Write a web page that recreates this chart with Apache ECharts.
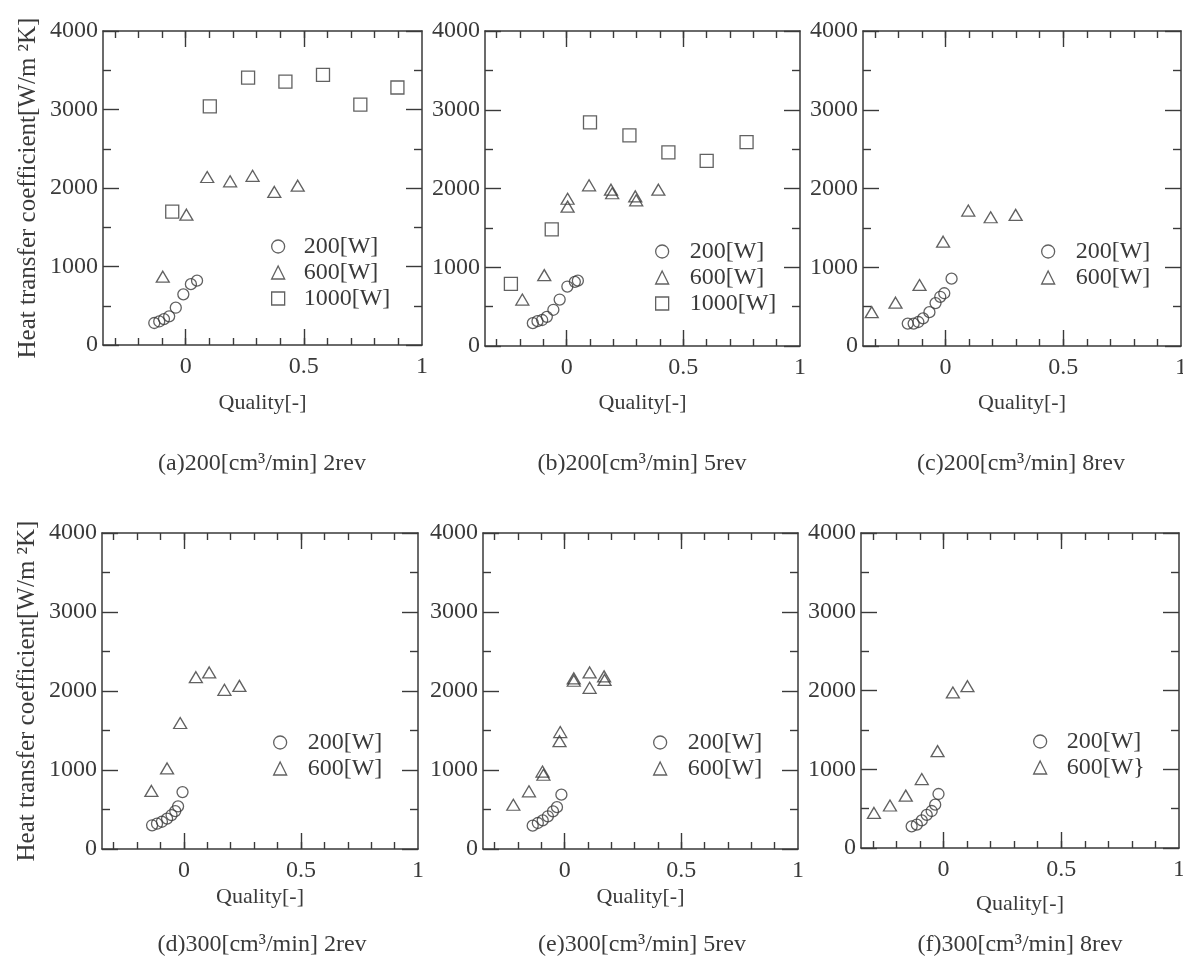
<!DOCTYPE html>
<html><head><meta charset="utf-8">
<script src="https://cdn.jsdelivr.net/npm/echarts@6/dist/echarts.min.js"></script>
<style>html,body{margin:0;padding:0;background:#fff}#c{width:1183px;height:971px}</style>
</head><body><div id="c"></div>
<script>
// ---- data (quality [-], heat transfer coefficient [W/m2K]) ----
const a200 = [[-0.133,280],[-0.112,300],[-0.092,330],[-0.07,365],[-0.042,475],[-0.01,645],[0.022,775],[0.048,820]];
const a600 = [[-0.097,870],[0.003,1660],[0.091,2140],[0.188,2085],[0.283,2155],[0.375,1950],[0.474,2030]];
const a1000 = [[-0.057,1700],[0.102,3040],[0.264,3405],[0.422,3355],[0.581,3440],[0.739,3063],[0.896,3280]];

const b200 = [[-0.145,290],[-0.125,315],[-0.105,330],[-0.085,370],[-0.057,460],[-0.03,590],[0.003,755],[0.035,815],[0.048,830]];
const b600 = [[-0.19,590],[-0.096,900],[0.004,1870],[0.004,1770],[0.096,2040],[0.19,1985],[0.195,1940],[0.294,1900],[0.298,1850],[0.393,1985]];
const b1000 = [[-0.239,790],[-0.064,1480],[0.1,2840],[0.269,2675],[0.436,2460],[0.6,2350],[0.771,2590]];

const c200 = [[-0.16,285],[-0.135,285],[-0.115,305],[-0.095,350],[-0.068,430],[-0.042,545],[-0.022,625],[-0.005,670],[0.026,855]];
const c600 = [[-0.313,430],[-0.212,550],[-0.11,775],[-0.01,1325],[0.097,1720],[0.192,1635],[0.298,1665]];

const d200 = [[-0.136,300],[-0.115,320],[-0.094,345],[-0.072,385],[-0.053,430],[-0.037,480],[-0.025,540],[-0.006,720]];
const d600 = [[-0.139,735],[-0.072,1020],[-0.016,1595],[0.051,2175],[0.108,2235],[0.173,2015],[0.237,2065]];

const e200 = [[-0.137,295],[-0.115,329],[-0.094,363],[-0.072,414],[-0.05,477],[-0.033,530],[-0.014,688]];
const e600 = [[-0.22,560],[-0.153,730],[-0.095,980],[-0.091,940],[-0.019,1480],[-0.022,1365],[0.039,2160],[0.039,2130],[0.107,2235],[0.107,2040],[0.169,2185],[0.171,2140]];

const f200 = [[-0.135,275],[-0.113,296],[-0.092,350],[-0.071,420],[-0.05,470],[-0.035,550],[-0.021,686]];
const f600 = [[-0.295,445],[-0.227,540],[-0.16,665],[-0.092,875],[-0.025,1230],[0.04,1975],[0.102,2055]];

// ---- ticks & labels ----
const xLabels = [0, 0.5, 1];
const xMinorTicks = [-0.3,-0.2,-0.1,0,0.1,0.2,0.3,0.4,0.5,0.6,0.7,0.8,0.9];
const xMajorTicks = [0, 0.5];
const xName = 'Quality[-]';
const yName = 'Heat transfer coefficient[W/m \u00B2K]';
const captions = ['(a)200[cm\u00B3/min] 2rev','(b)200[cm\u00B3/min] 5rev','(c)200[cm\u00B3/min] 8rev',
                  '(d)300[cm\u00B3/min] 2rev','(e)300[cm\u00B3/min] 5rev','(f)300[cm\u00B3/min] 8rev'];

// ---- layout ----
const panels = [
  {grid:{left:103,top:31,width:319,height:314}, series:[['200[W]',a200,'circle'],['600[W]',a600,'triangle'],['1000[W]',a1000,'rect']], lg:{left:271,top:234,pad:14}, cx:262, cy:464, nameGap:47, yTitle:true},
  {grid:{left:485,top:31,width:315,height:315}, series:[['200[W]',b200,'circle'],['600[W]',b600,'triangle'],['1000[W]',b1000,'rect']], lg:{left:655,top:239,pad:16}, cx:642, cy:464, nameGap:46},
  {grid:{left:863,top:31,width:318,height:315}, series:[['200[W]',c200,'circle'],['600[W]',c600,'triangle']], lg:{left:1041,top:239,pad:16}, cx:1021, cy:464, nameGap:46},
  {grid:{left:102,top:533,width:316,height:316}, series:[['200[W]',d200,'circle'],['600[W]',d600,'triangle']], lg:{left:273,top:730,pad:16}, cx:262, cy:945, nameGap:37, yTitle:true},
  {grid:{left:483,top:533,width:315,height:316}, series:[['200[W]',e200,'circle'],['600[W]',e600,'triangle']], lg:{left:653,top:730,pad:16}, cx:642, cy:945, nameGap:37},
  {grid:{left:861,top:533,width:318,height:315}, series:[['200[W]',f200,'circle'],['600[W}',f600,'triangle']], lg:{left:1033,top:729,pad:15}, cx:1020, cy:945, nameGap:45}
];

const FONT = 'Liberation Serif';
const INK = '#3a3a3a';
const lineStyle = {color: INK, width: 1.4};
const symSize = {circle: 11, triangle: [13, 11], rect: 13};

const option = {animation:false, backgroundColor:'#fff', grid:[], xAxis:[], yAxis:[], series:[], legend:[], graphic:[]};

panels.forEach((p, i) => {
  option.grid.push(Object.assign({show:false, containLabel:false, outerBoundsMode:'none'}, p.grid));
  const xi = option.xAxis.length;
  const baseX = () => ({gridIndex:i, type:'value', min:-0.35, max:1,
    axisLine:{show:true, onZero:false, lineStyle:{color:INK, width:1.5}},
    splitLine:{show:false},
    axisTick:{show:true, inside:true, length:7, customValues:xMinorTicks, lineStyle},
    axisLabel:{show:false}});
  const bottom = baseX();
  bottom.position = 'bottom';
  bottom.axisLabel = {show:true, customValues:xLabels, fontFamily:FONT, fontSize:24, color:INK, margin:10};
  bottom.name = xName; bottom.nameLocation = 'middle'; bottom.nameGap = p.nameGap;
  bottom.nameTextStyle = {fontFamily:FONT, fontSize:22, color:INK};
  option.xAxis.push(bottom);
  const bottomMajor = baseX();
  bottomMajor.position = 'bottom';
  bottomMajor.axisLine = {show:false, onZero:false};
  bottomMajor.axisTick = {show:true, inside:true, length:16, customValues:xMajorTicks, lineStyle};
  option.xAxis.push(bottomMajor);
  const top = baseX(); top.position = 'top';
  option.xAxis.push(top);
  const topMajor = baseX();
  topMajor.position = 'top';
  topMajor.axisLine = {show:false, onZero:false};
  topMajor.axisTick = {show:true, inside:true, length:16, customValues:xMajorTicks, lineStyle};
  option.xAxis.push(topMajor);

  const yi = option.yAxis.length;
  const baseY = () => ({gridIndex:i, type:'value', min:0, max:4000, interval:1000,
    axisLine:{show:true, onZero:false, lineStyle:{color:INK, width:1.5}},
    splitLine:{show:false},
    axisTick:{show:true, inside:true, length:16, lineStyle},
    minorTick:{show:true, splitNumber:2, length:8, lineStyle},
    axisLabel:{show:false}});
  const left = baseY();
  left.position = 'left';
  left.axisLabel = {show:true, fontFamily:FONT, fontSize:24, color:INK, margin:5, formatter: v => String(v)};
  if (p.yTitle) {
    left.name = yName; left.nameLocation = 'middle'; left.nameGap = 62; left.nameRotate = 90;
    left.nameTextStyle = {fontFamily:FONT, fontSize:25, color:INK};
  }
  option.yAxis.push(left);
  const right = baseY(); right.position = 'right';
  option.yAxis.push(right);

  p.series.forEach(([name, data, sym]) => {
    option.series.push({type:'scatter', name, data, xAxisIndex:xi, yAxisIndex:yi,
      symbol:sym, symbolSize:symSize[sym],
      itemStyle:{color:'rgba(255,255,255,0)', borderColor:INK, borderWidth:1.3},
      emphasis:{disabled:true}});
  });

  option.legend.push({orient:'vertical', left:p.lg.left, top:p.lg.top, itemGap:1,
    itemWidth:13, itemHeight:13, selectedMode:false, padding:0,
    data:p.series.map(s => s[0]),
    itemStyle:{color:'rgba(255,255,255,0)', borderColor:INK, borderWidth:1.3},
    textStyle:{fontFamily:FONT, fontSize:24, color:INK, lineHeight:25, padding:[0,0,0,p.lg.pad]}});

  option.graphic.push({type:'text', x:p.cx, y:p.cy,
    style:{text:captions[i], textAlign:'center', textVerticalAlign:'middle', fontFamily:FONT, fontSize:24, fill:INK}});
});

const chart = echarts.init(document.getElementById('c'), null, {renderer:'canvas'});
chart.setOption(option);
</script>
</body></html>
